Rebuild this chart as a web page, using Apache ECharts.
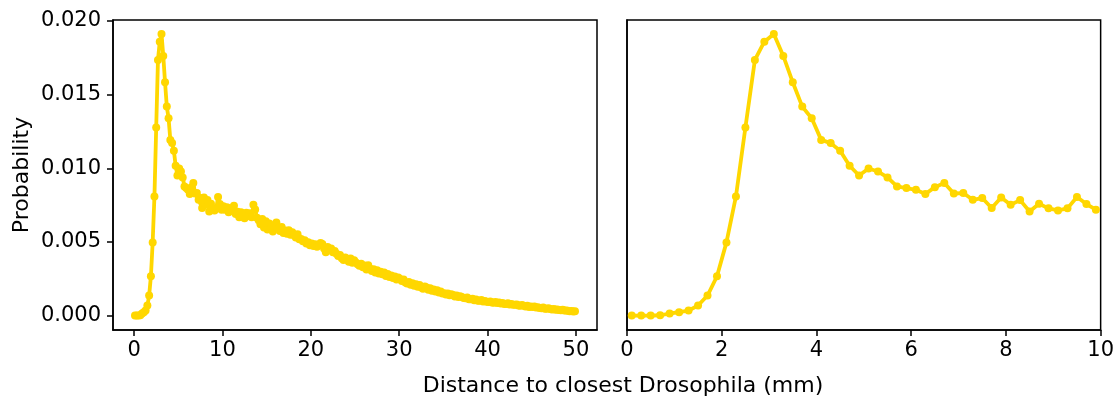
<!DOCTYPE html>
<html>
<head>
<meta charset="utf-8">
<script src="https://cdn.jsdelivr.net/npm/echarts@6/dist/echarts.min.js"></script>
<style>html,body{margin:0;padding:0;background:#fff}#c{width:1117px;height:398px}</style>
</head>
<body>
<div id="c"></div>
<script>
// Bin layout (bin centers at firstCenter + k*binWidth)
const firstCenter = 0.1;
const binWidth = 0.2;
const zoomBins = 50; // right panel shows first 50 bins (0-10 mm)

// Probability per bin (0.1 ... 49.9 mm)
const prob = [
  0.00000, 0.00000, 0.00000, 0.00002, 0.00014, 0.00023, 0.00034, 0.00068, 0.00136, 0.00267,
  0.00497, 0.00809, 0.01277, 0.01736, 0.01860, 0.01912, 0.01763, 0.01584, 0.01419, 0.01340,
  0.01193, 0.01171, 0.01119, 0.01017, 0.00951, 0.00999, 0.00978, 0.00938, 0.00877, 0.00866,
  0.00854, 0.00825, 0.00872, 0.00900, 0.00829, 0.00832, 0.00786, 0.00798, 0.00730, 0.00802,
  0.00753, 0.00784, 0.00707, 0.00759, 0.00728, 0.00714, 0.00728, 0.00805, 0.00757, 0.00719,
  0.00742, 0.00718, 0.00735, 0.00701, 0.00728, 0.00712, 0.00745, 0.00690, 0.00705, 0.00668,
  0.00702, 0.00685, 0.00660, 0.00698, 0.00676, 0.00694, 0.00668, 0.00752, 0.00720, 0.00665,
  0.00648, 0.00620, 0.00655, 0.00598, 0.00640, 0.00585, 0.00625, 0.00608, 0.00570, 0.00612,
  0.00632, 0.00590, 0.00575, 0.00602, 0.00560, 0.00578, 0.00555, 0.00580, 0.00548, 0.00566,
  0.00545, 0.00530, 0.00552, 0.00518, 0.00520, 0.00505, 0.00512, 0.00490, 0.00498, 0.00478,
  0.00490, 0.00472, 0.00485, 0.00468, 0.00480, 0.00492, 0.00486, 0.00455, 0.00430, 0.00465,
  0.00448, 0.00455, 0.00430, 0.00438, 0.00420, 0.00405, 0.00412, 0.00390, 0.00378, 0.00395,
  0.00382, 0.00365, 0.00388, 0.00358, 0.00375, 0.00360, 0.00348, 0.00338, 0.00352, 0.00328,
  0.00340, 0.00312, 0.00342, 0.00318, 0.00302, 0.00314, 0.00292, 0.00308, 0.00286, 0.00298,
  0.00280, 0.00292, 0.00268, 0.00283, 0.00262, 0.00272, 0.00255, 0.00266, 0.00245, 0.00258,
  0.00248, 0.00235, 0.00245, 0.00225, 0.00218, 0.00228, 0.00210, 0.00220, 0.00202, 0.00212,
  0.00196, 0.00208, 0.00190, 0.00182, 0.00197, 0.00190, 0.00175, 0.00185, 0.00168, 0.00177,
  0.00163, 0.00172, 0.00156, 0.00164, 0.00150, 0.00152, 0.00143, 0.00150, 0.00138, 0.00144,
  0.00139, 0.00130, 0.00136, 0.00126, 0.00131, 0.00126, 0.00120, 0.00117, 0.00122, 0.00110,
  0.00110, 0.00115, 0.00104, 0.00109, 0.00101, 0.00100, 0.00105, 0.00095, 0.00099, 0.00093,
  0.00092, 0.00096, 0.00089, 0.00087, 0.00092, 0.00086, 0.00089, 0.00082, 0.00085, 0.00079,
  0.00079, 0.00083, 0.00075, 0.00078, 0.00073, 0.00073, 0.00076, 0.00069, 0.00067, 0.00071,
  0.00066, 0.00062, 0.00067, 0.00059, 0.00062, 0.00058, 0.00061, 0.00054, 0.00057, 0.00052,
  0.00050, 0.00054, 0.00047, 0.00046, 0.00049, 0.00044, 0.00042, 0.00045, 0.00040, 0.00041,
  0.00038, 0.00036, 0.00039, 0.00034, 0.00035, 0.00032, 0.00030, 0.00031, 0.00028, 0.00029
];

const yTicks = [0, 0.005, 0.010, 0.015, 0.020];
const xTicksLeft = [0, 10, 20, 30, 40, 50];
const xTicksRight = [0, 2, 4, 6, 8, 10];
const xLabel = 'Distance to closest Drosophila (mm)';
const yLabel = 'Probability';

const pts = prob.map((v, i) => [+(firstCenter + i * binWidth).toFixed(2), v]);
const ptsZoom = pts.slice(0, zoomBins);

const FONT = 'DejaVu Sans';
const gold = '#FFD700';
const lblStyle = { color: '#000', fontSize: 21, fontFamily: FONT };

const chart = echarts.init(document.getElementById('c'), null, { renderer: 'canvas' });
chart.setOption({
  animation: false,
  backgroundColor: '#fff',
  grid: [
    { left: 113, top: 20, width: 484, height: 310, show: true, borderColor: '#000', borderWidth: 1.5, backgroundColor: 'transparent' },
    { left: 627, top: 20, width: 476, height: 310, show: true, borderColor: '#000', borderWidth: 1.5, backgroundColor: 'transparent' }
  ],
  xAxis: [
    {
      gridIndex: 0, type: 'value', min: -2.39, max: 52.39,
      axisLine: { show: true, onZero: false, lineStyle: { color: '#000', width: 1.5 } },
      axisTick: { show: true, length: 6, lineStyle: { color: '#000', width: 1.5 }, customValues: xTicksLeft },
      axisLabel: Object.assign({ margin: 10, customValues: xTicksLeft, formatter: v => String(v) }, lblStyle),
      splitLine: { show: false }
    },
    {
      gridIndex: 1, type: 'value', min: 0, max: 10, interval: 2,
      axisLine: { show: true, onZero: false, lineStyle: { color: '#000', width: 1.5 } },
      axisTick: { show: true, length: 6, lineStyle: { color: '#000', width: 1.5 }, customValues: xTicksRight },
      axisLabel: Object.assign({ margin: 10, customValues: xTicksRight, formatter: v => String(v) }, lblStyle),
      splitLine: { show: false }
    }
  ],
  yAxis: [
    {
      gridIndex: 0, type: 'value', min: -0.00098, max: 0.02007,
      axisLine: { show: true, onZero: false, lineStyle: { color: '#000', width: 1.5 } },
      axisTick: { show: true, length: 6, lineStyle: { color: '#000', width: 1.5 }, customValues: yTicks },
      axisLabel: Object.assign({ margin: 12, customValues: yTicks, formatter: v => v.toFixed(3) }, lblStyle),
      splitLine: { show: false }
    },
    {
      gridIndex: 1, type: 'value', min: -0.00098, max: 0.02007,
      axisLine: { show: true, onZero: false, lineStyle: { color: '#000', width: 1.5 } },
      axisTick: { show: false },
      axisLabel: { show: false },
      splitLine: { show: false }
    }
  ],
  series: [
    {
      type: 'line', xAxisIndex: 0, yAxisIndex: 0, data: pts,
      symbol: 'circle', symbolSize: 8, showSymbol: true,
      lineStyle: { color: gold, width: 3.8 }, itemStyle: { color: gold, borderWidth: 0 },
      clip: true
    },
    {
      type: 'line', xAxisIndex: 1, yAxisIndex: 1, data: ptsZoom,
      symbol: 'circle', symbolSize: 8, showSymbol: true,
      lineStyle: { color: gold, width: 3.8 }, itemStyle: { color: gold, borderWidth: 0 },
      clip: true
    }
  ],
  graphic: [
    { type: 'text', x: 623, y: 386, style: { text: xLabel, fill: '#000', font: '22px "DejaVu Sans"', textAlign: 'center', textVerticalAlign: 'middle' } },
    { type: 'text', x: 22, y: 175, rotation: Math.PI / 2, style: { text: yLabel, fill: '#000', font: '22px "DejaVu Sans"', textAlign: 'center', textVerticalAlign: 'middle' } }
  ]
});
</script>
</body>
</html>
